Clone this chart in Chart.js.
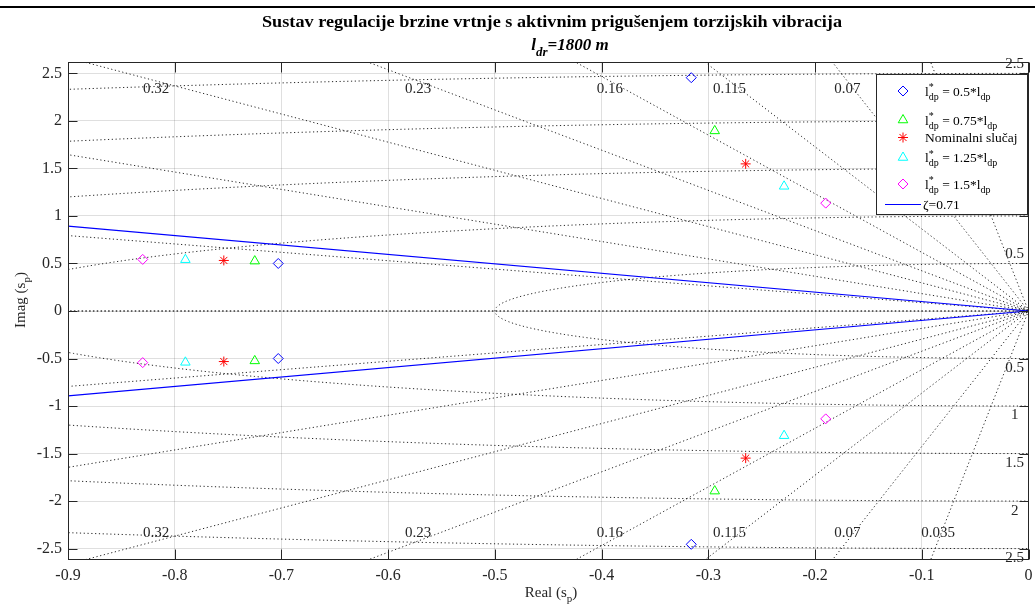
<!DOCTYPE html>
<html>
<head>
<meta charset="utf-8">
<script src="https://cdn.jsdelivr.net/npm/chart.js@4.4.1/dist/chart.umd.min.js"></script>
<style>
  html, body { margin: 0; padding: 0; background: #fff; }
  #wrap { position: relative; width: 1035px; height: 608px; }
</style>
</head>
<body>
<div id="wrap"><canvas id="pzmap" width="1035" height="608"></canvas></div>
<script>
// --- podaci očitani sa slike ---
const xTicks = [-0.9, -0.8, -0.7, -0.6, -0.5, -0.4, -0.3, -0.2, -0.1, 0];
const xTickLabels = ['-0.9', '-0.8', '-0.7', '-0.6', '-0.5', '-0.4', '-0.3', '-0.2', '-0.1', '0'];
const yTicks = [-2.5, -2, -1.5, -1, -0.5, 0, 0.5, 1, 1.5, 2, 2.5];
const yTickLabels = ['-2.5', '-2', '-1.5', '-1', '-0.5', '0', '0.5', '1', '1.5', '2', '2.5'];

// polovi (realni / imaginarni dio) za svaki slučaj
const re05  = [-0.703, -0.703, -0.316, -0.316];
const im05  = [0.500, -0.500, 2.455, -2.455];
const re075 = [-0.725, -0.725, -0.294, -0.294];
const im075 = [0.525, -0.525, 1.895, -1.895];
const reNom = [-0.754, -0.754, -0.265, -0.265];
const imNom = [0.532, -0.532, 1.548, -1.548];
const re125 = [-0.790, -0.790, -0.229, -0.229];
const im125 = [0.540, -0.540, 1.312, -1.312];
const re15  = [-0.830, -0.830, -0.190, -0.190];
const im15  = [0.543, -0.543, 1.135, -1.135];

const seriesFactors = ['0.5', '0.75', null, '1.25', '1.5'];
const nominalLabel = 'Nominalni slučaj';

// sgrid: koeficijenti prigušenja i prirodne frekvencije
const zetaGrid = [0.035, 0.07, 0.115, 0.16, 0.23, 0.32, 0.48, 0.75, 1];
const zetaLabeled = [0.035, 0.07, 0.115, 0.16, 0.23, 0.32];
const zetaLabelText = ['0.035', '0.07', '0.115', '0.16', '0.23', '0.32'];
const wnGrid = [0.5, 1, 1.5, 2, 2.5];
const wnLabelText = ['0.5', '1', '1.5', '2', '2.5'];
const zetaDesign = 0.71;

// --- stilovi ---
const seriesColors = ['#0000ff', '#00ff00', '#ff0000', '#00ffff', '#ff00ff'];
const seriesStyles = ['rectRot', 'triangle', 'star', 'triangle', 'rectRot'];
const seriesRadius = [5, 5.5, 5, 5.5, 5];
const SERIF = '"Liberation Serif", "Times New Roman", serif';
const AXIS_COLOR = '#262626';

const toPts = (re, im) => re.map((r, i) => ({ x: r, y: im[i] }));
const poleSets = [toPts(re05, im05), toPts(re075, im075), toPts(reNom, imNom), toPts(re125, im125), toPts(re15, im15)];

// linija konstantnog prigušenja kroz ishodište (izlazi izvan osi pa se odreže)
function dampingLine(z) {
  const L = 6, s = Math.sqrt(1 - z * z);
  return [{ x: -L * z, y: L * s }, { x: 0, y: 0 }, { x: -L * z, y: -L * s }];
}
// kružnica konstantne prirodne frekvencije (lijeva poluravnina)
function wnCircle(w) {
  const pts = [];
  for (let k = 0; k <= 360; k++) {
    const t = Math.PI / 2 + (Math.PI * k) / 360;
    pts.push({ x: w * Math.cos(t), y: w * Math.sin(t) });
  }
  return pts;
}

const dotted = { showLine: true, pointRadius: 0, borderColor: 'rgba(0,0,0,0.85)', borderWidth: 1, borderDash: [1.2, 2.6], tension: 0, fill: false };

const datasets = [];
poleSets.forEach((pts, i) => {
  datasets.push({
    data: pts,
    showLine: false,
    pointStyle: seriesStyles[i],
    pointRadius: seriesRadius[i],
    pointBorderWidth: 1,
    pointBorderColor: seriesColors[i],
    pointBackgroundColor: 'rgba(0,0,0,0)'
  });
});
datasets.push({ data: dampingLine(zetaDesign), showLine: true, pointRadius: 0, borderColor: '#0000ff', borderWidth: 1.2, tension: 0, fill: false });
zetaGrid.forEach(z => datasets.push(Object.assign({ data: dampingLine(z) }, dotted)));
wnGrid.forEach(w => datasets.push(Object.assign({ data: wnCircle(w) }, dotted)));

// rich text: stringovi ili {sup, sub}
function richText(ctx, x, y, parts, size, style) {
  let cx = x;
  const small = Math.round(size * 0.75);
  parts.forEach(p => {
    if (typeof p === 'string') {
      ctx.font = `${style} ${size}px ${SERIF}`;
      ctx.fillText(p, cx, y);
      cx += ctx.measureText(p).width;
    } else {
      ctx.font = `${style} ${small}px ${SERIF}`;
      let w = 0;
      if (p.sup) { ctx.fillText(p.sup, cx, y - size * 0.38); w = ctx.measureText(p.sup).width; }
      if (p.sub) { ctx.fillText(p.sub, cx, y + size * 0.33); w = Math.max(w, ctx.measureText(p.sub).width); }
      cx += w;
    }
  });
  return cx;
}
function richWidth(ctx, parts, size, style) {
  let w = 0;
  const small = Math.round(size * 0.75);
  parts.forEach(p => {
    if (typeof p === 'string') { ctx.font = `${style} ${size}px ${SERIF}`; w += ctx.measureText(p).width; }
    else {
      ctx.font = `${style} ${small}px ${SERIF}`;
      w += Math.max(p.sup ? ctx.measureText(p.sup).width : 0, p.sub ? ctx.measureText(p.sub).width : 0);
    }
  });
  return w;
}

const decorPlugin = {
  id: 'decor',
  afterDatasetsDraw(chart) {
    const { ctx, scales: { x, y } } = chart;
    ctx.save();
    ctx.fillStyle = AXIS_COLOR;
    ctx.font = `15px ${SERIF}`;
    ctx.textAlign = 'center';
    ctx.textBaseline = 'middle';
    // oznake prigušenja uz gornji i donji rub
    zetaLabeled.forEach((z, i) => {
      const xv = -2.42 * z / Math.sqrt(1 - z * z);
      ctx.fillText(zetaLabelText[i], x.getPixelForValue(xv), y.getPixelForValue(2.34));
      ctx.fillText(zetaLabelText[i], x.getPixelForValue(xv), y.getPixelForValue(-2.34));
    });
    // oznake prirodnih frekvencija uz desni rub
    wnGrid.forEach((w, i) => {
      ctx.fillText(wnLabelText[i], x.getPixelForValue(-0.013), y.getPixelForValue(w + 0.1));
      ctx.fillText(wnLabelText[i], x.getPixelForValue(-0.013), y.getPixelForValue(-(w + 0.1)));
    });
    ctx.restore();
  },
  afterDraw(chart) {
    const { ctx, chartArea: a, scales: { x, y } } = chart;
    ctx.save();

    // okvir i unutarnje crtice
    ctx.strokeStyle = AXIS_COLOR;
    ctx.lineWidth = 1;
    const L = Math.round(a.left) + 0.5, R = Math.round(a.right) - 0.5;
    const T = Math.round(a.top) + 0.5, B = Math.round(a.bottom) - 0.5;
    ctx.strokeRect(L, T, R - L, B - T);
    ctx.beginPath();
    xTicks.forEach(v => {
      const px = Math.round(x.getPixelForValue(v)) + 0.5;
      ctx.moveTo(px, B); ctx.lineTo(px, B - 10);
      ctx.moveTo(px, T); ctx.lineTo(px, T + 10);
    });
    yTicks.forEach(v => {
      const py = Math.round(y.getPixelForValue(v)) + 0.5;
      ctx.moveTo(L, py); ctx.lineTo(L + 9, py);
      ctx.moveTo(R, py); ctx.lineTo(R - 9, py);
    });
    ctx.stroke();

    // legenda
    const lx = 876.5, ly = 74.5, lw = 151, lh = 140;
    ctx.fillStyle = '#fff';
    ctx.fillRect(lx, ly, lw, lh);
    ctx.strokeStyle = AXIS_COLOR;
    ctx.strokeRect(lx, ly, lw, lh);
    const rowY = [91, 120, 137.5, 157.5, 184, 204.5];
    const mx = 903, tx = 925;
    ctx.fillStyle = '#000';
    ctx.textAlign = 'left';
    ctx.textBaseline = 'alphabetic';
    seriesFactors.forEach((f, i) => {
      ctx.save();
      ctx.strokeStyle = seriesColors[i];
      ctx.fillStyle = 'rgba(0,0,0,0)';
      ctx.lineWidth = 1;
      Chart.helpers.drawPoint(ctx, { pointStyle: seriesStyles[i], radius: seriesRadius[i], rotation: 0, borderWidth: 1 }, mx, rowY[i]);
      ctx.restore();
      ctx.fillStyle = '#000';
      if (f === null) {
        ctx.font = `13.5px ${SERIF}`;
        ctx.fillText(nominalLabel, tx, rowY[i] + 4.5);
      } else {
        richText(ctx, tx, rowY[i] + 4.5, ['l', { sup: '*', sub: 'dp' }, ' = ' + f + '*l', { sub: 'dp' }], 13.5, '');
      }
    });
    ctx.strokeStyle = '#0000ff';
    ctx.lineWidth = 1.2;
    ctx.beginPath();
    ctx.moveTo(885, rowY[5]); ctx.lineTo(921, rowY[5]);
    ctx.stroke();
    ctx.font = `13.5px ${SERIF}`;
    ctx.fillText('ζ=' + zetaDesign, 923, rowY[5] + 4.5);

    // naslov
    ctx.fillStyle = '#000';
    ctx.textAlign = 'center';
    ctx.font = `bold 17px ${SERIF}`;
    const t1 = 'Sustav regulacije brzine vrtnje s aktivnim prigušenjem torzijskih vibracija';
    const w1 = ctx.measureText(t1).width;
    ctx.save();
    ctx.translate(552, 27);
    ctx.scale(580 / w1, 1);
    ctx.fillText(t1, 0, 0);
    ctx.restore();
    ctx.textAlign = 'left';
    const t2 = ['l', { sub: 'dr' }, '=1800 m'];
    richText(ctx, 570 - richWidth(ctx, t2, 17, 'italic bold') / 2, 50, t2, 17, 'italic bold');

    // nazivi osi
    ctx.fillStyle = AXIS_COLOR;
    const xl = ['Real (s', { sub: 'p' }, ')'];
    richText(ctx, 551 - richWidth(ctx, xl, 15, '') / 2, 597, xl, 15, '');
    const yl = ['Imag (s', { sub: 'p' }, ')'];
    ctx.save();
    ctx.translate(25, 300);
    ctx.rotate(-Math.PI / 2);
    richText(ctx, -richWidth(ctx, yl, 15, '') / 2, 0, yl, 15, '');
    ctx.restore();

    // gornja crta
    ctx.strokeStyle = '#000';
    ctx.lineWidth = 2;
    ctx.beginPath();
    ctx.moveTo(0, 7); ctx.lineTo(1035, 7);
    ctx.stroke();
    ctx.restore();
  }
};

new Chart(document.getElementById('pzmap'), {
  type: 'scatter',
  data: { datasets },
  options: {
    responsive: false,
    animation: false,
    events: [],
    layout: { padding: { top: 62, right: 2, left: 0, bottom: 0 } },
    plugins: { legend: { display: false }, title: { display: false }, tooltip: { enabled: false } },
    scales: {
      x: {
        type: 'linear', min: -0.9, max: 0,
        afterBuildTicks: s => { s.ticks = xTicks.map(v => ({ value: v })); },
        afterFit: s => { s.height = 48; s.paddingLeft = 0; s.paddingRight = 0; },
        grid: { color: 'rgba(38,38,38,0.15)', drawTicks: false },
        border: { display: false },
        ticks: { padding: 6, color: AXIS_COLOR, font: { family: SERIF, size: 16 }, maxRotation: 0, autoSkip: false,
                 callback: (v, i) => xTickLabels[i] }
      },
      y: {
        type: 'linear', min: -2.62, max: 2.62,
        afterBuildTicks: s => { s.ticks = yTicks.map(v => ({ value: v })); },
        afterFit: s => { s.width = 68; s.paddingTop = 0; s.paddingBottom = 0; },
        grid: { color: 'rgba(38,38,38,0.15)', drawTicks: false },
        border: { display: false },
        ticks: { padding: 6, color: AXIS_COLOR, font: { family: SERIF, size: 16 }, autoSkip: false,
                 callback: (v, i) => yTickLabels[i] }
      }
    }
  },
  plugins: [decorPlugin]
});
</script>
</body>
</html>
